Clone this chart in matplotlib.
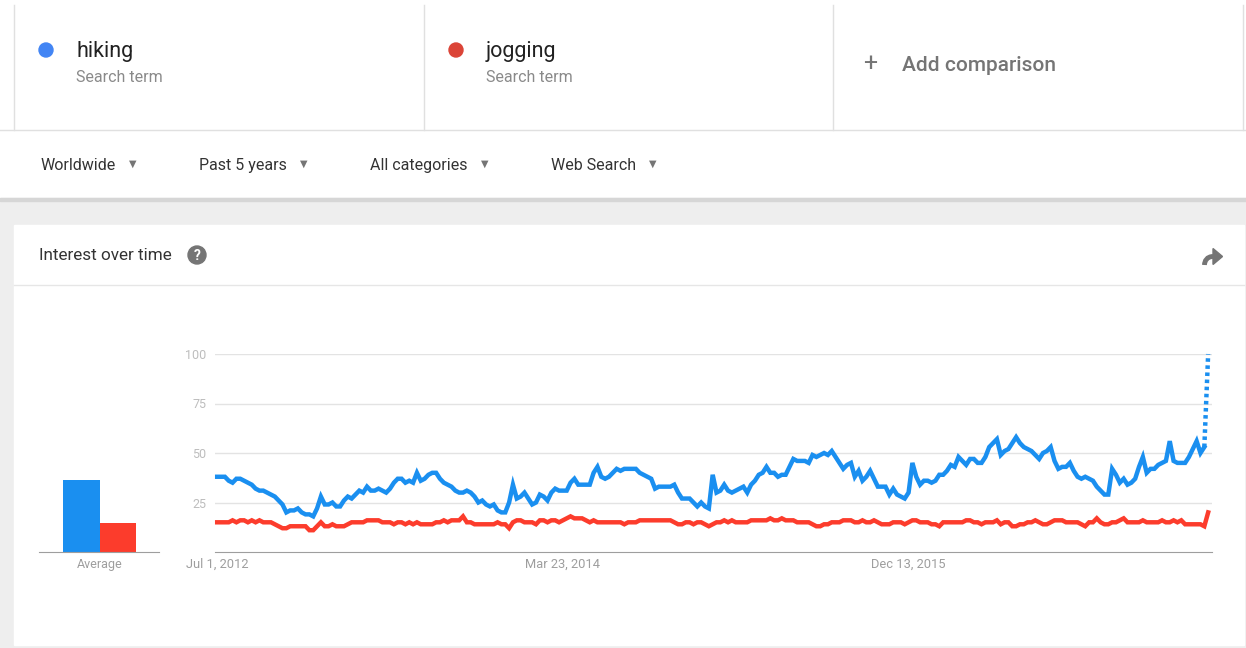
import matplotlib.pyplot as plt
import pandas as pd
from matplotlib.patches import Rectangle, Circle, Polygon, PathPatch
from matplotlib.path import Path

# ---------- DATA ----------
terms = ["hiking", "jogging"]
start_date = "2012-07-01"

hiking = [38, 38, 38, 36, 35, 37, 37, 36, 35, 34, 32, 31, 31, 30, 29, 28, 26, 24, 20, 21, 21, 22, 20, 19, 19, 18, 22, 28, 24, 24, 25, 23, 23, 26, 28, 27, 29, 31, 30, 33, 31, 31, 32,
          31, 30, 32, 35, 37, 37, 35, 36, 35, 40, 36, 37, 39, 40, 40, 37, 35, 34, 33, 31, 30, 30, 31, 30, 28, 25, 26, 24, 23, 24, 21, 20, 20, 25, 34, 27, 28, 30, 27, 24, 25, 29, 28,
          26, 30, 32, 31, 31, 31, 35, 37, 34, 34, 34, 34, 40, 43, 38, 37, 38, 40, 42, 41, 42, 42, 42, 42, 40, 39, 38, 37, 32, 33, 33, 33, 33, 34, 30, 27, 27, 27, 25, 23, 25, 23, 22,
          39, 30, 31, 34, 31, 30, 31, 32, 33, 30, 34, 36, 39, 40, 43, 40, 40, 38, 39, 39, 43, 47, 46, 46, 46, 45, 49, 48, 49, 50, 49, 51, 48, 45, 42, 44, 45, 38, 41, 36, 38, 41, 37,
          33, 33, 33, 29, 32, 29, 28, 27, 30, 45, 38, 34, 36, 36, 35, 36, 39, 39, 41, 44, 43, 48, 46, 44, 47, 47, 45, 45, 48, 53, 55, 57, 49, 51, 52, 55, 58, 55, 53, 52, 51, 49, 47,
          50, 51, 53, 46, 42, 43, 43, 45, 41, 38, 37, 38, 37, 36, 33, 31, 29, 29, 42, 39, 35, 37, 34, 35, 37, 43, 48, 40, 42, 42, 44, 45, 46, 56, 46, 45, 45, 45, 48, 52, 56, 50, 53, 100]

jogging = [15, 15, 15, 15, 16, 15, 16, 16, 15, 16, 15, 16, 15, 15, 15, 14, 13, 12, 12, 13, 13, 13, 13, 13, 11, 11, 13, 15, 13, 13, 14, 13, 13, 13, 14, 15, 15, 15, 15, 16, 16, 16, 16,
           15, 15, 15, 14, 15, 15, 14, 15, 14, 15, 14, 14, 14, 14, 15, 15, 16, 15, 16, 16, 16, 18, 15, 15, 14, 14, 14, 14, 14, 14, 15, 14, 14, 12, 15, 16, 16, 15, 15, 15, 14, 16, 16,
           15, 16, 16, 15, 16, 17, 18, 17, 17, 17, 16, 15, 16, 15, 15, 15, 15, 15, 15, 15, 14, 15, 15, 15, 16, 16, 16, 16, 16, 16, 16, 16, 16, 15, 14, 14, 15, 15, 14, 15, 15, 14, 13,
           14, 15, 15, 16, 15, 16, 15, 15, 15, 15, 16, 16, 16, 16, 16, 17, 16, 16, 17, 16, 16, 16, 15, 15, 15, 15, 14, 13, 13, 14, 14, 15, 15, 15, 16, 16, 16, 15, 15, 16, 15, 15, 16,
           15, 14, 14, 14, 15, 15, 15, 14, 15, 16, 16, 15, 15, 15, 14, 14, 13, 15, 15, 15, 15, 15, 15, 16, 16, 15, 15, 14, 15, 15, 15, 16, 14, 15, 15, 13, 13, 14, 14, 15, 15, 16, 15,
           14, 14, 15, 16, 16, 16, 15, 15, 15, 15, 14, 13, 15, 15, 17, 15, 14, 14, 15, 15, 16, 17, 15, 15, 15, 15, 16, 15, 15, 15, 15, 16, 15, 15, 16, 15, 16, 14, 14, 14, 14, 14, 13, 20]

averages = [36.5, 14.7]
y_ticks = [25, 50, 75, 100]
x_tick_dates = ["2012-07-01", "2014-03-23", "2015-12-13"]
x_tick_labels = ["Jul 1, 2012", "Mar 23, 2014", "Dec 13, 2015"]
filters = ["Worldwide", "Past 5 years", "All categories", "Web Search"]

dates = pd.date_range(start_date, periods=len(hiking), freq="7D")

BLUE = "#1a8ff0"
RED = "#fc3c2c"
W, H = 1246, 648

plt.rcParams["font.family"] = ["Roboto", "DejaVu Sans"]

fig = plt.figure(figsize=(W / 100, H / 100), dpi=100)
renderer = fig.canvas.get_renderer()


def px_axes(x0, y0, x1, y1):
    return fig.add_axes([x0 / W, 1 - y1 / H, (x1 - x0) / W, (y1 - y0) / H])


# ---------- PAGE BACKGROUND ----------
bg = fig.add_axes([0, 0, 1, 1])
bg.set_xlim(0, W)
bg.set_ylim(H, 0)
bg.axis("off")

bg.add_patch(Rectangle((0, 198), W, H - 198, color="#eeeeee", zorder=0))
bg.add_patch(Rectangle((0, 198), W, 3, color="#d6d6d6", zorder=1))
bg.add_patch(Rectangle((14, 225), 1230, 420, color="white", zorder=1))
bg.plot([14, 1244], [285, 285], color="#e6e6e6", lw=1, zorder=2)

# term boxes
for x in [14, 424, 833, 1243]:
    bg.plot([x, x], [5, 130], color="#e0e0e0", lw=1, zorder=2)
bg.plot([0, W], [130, 130], color="#e0e0e0", lw=1, zorder=2)

term_x = [76, 486]
for i, term in enumerate(terms):
    col = "#4285f4" if i == 0 else "#db4437"
    bg.add_patch(Circle((term_x[i] - 30, 50), 7, color=col, zorder=3))
    bg.text(term_x[i], 51.5, term, fontsize=15.5, color="#212121", va="center")
    bg.text(term_x[i], 77, "Search term", fontsize=11.5, color="#8a8a8a", va="center")

bg.text(863, 64, "+", fontsize=18, color="#757575", va="center")
bg.text(902, 65.5, "Add comparison", fontsize=15, color="#757575", va="center",
        fontweight="medium")

# filter row
filter_x = [41, 199, 370, 551]
for fx, label in zip(filter_x, filters):
    t = bg.text(fx, 165.5, label, fontsize=11.5, color="#333333", va="center")
    bb = t.get_window_extent(renderer=renderer)
    bg.text(bb.x1 + 13, 164, "\u25bc", fontsize=7, color="#757575", va="center")

# card header
bg.text(39, 256, "Interest over time", fontsize=12.3, color="#333333", va="center")
bg.add_patch(Circle((197, 255), 9, color="#757575", zorder=3))
bg.text(197, 255.5, "?", fontsize=10, color="white", ha="center", va="center",
        fontweight="bold", zorder=4)
# share icon
bg.add_patch(Polygon([(1213, 248.5), (1222.5, 256.5), (1213, 264.5)], closed=True,
                     color="#757575", zorder=3))
share_path = Path([(1213, 256.5), (1207, 256.5), (1204.5, 261), (1204.5, 265)],
                  [Path.MOVETO, Path.CURVE4, Path.CURVE4, Path.CURVE4])
bg.add_patch(PathPatch(share_path, fill=False, edgecolor="#757575", lw=3.5,
                       capstyle="butt", zorder=3))

# ---------- AVERAGE BARS ----------
bax = px_axes(39, 354, 159, 552)
bax.bar([0, 1], averages, width=1, align="edge", color=[BLUE, RED])
bax.set_xlim(-0.66, 2.63)
bax.set_ylim(0, 100)
for s in ["top", "right", "left"]:
    bax.spines[s].set_visible(False)
bax.spines["bottom"].set_color("#9e9e9e")
bax.set_yticks([])
bax.set_xticks([1])
bax.set_xticklabels(["Average"])
bax.tick_params(axis="x", length=0, pad=4, labelsize=9, labelcolor="#9e9e9e")
bax.patch.set_alpha(0)

# ---------- LINE CHART ----------
ax = px_axes(215, 354, 1212, 552)
ax.plot(dates[:-1], hiking[:-1], color=BLUE, lw=3.2, solid_joinstyle="miter", clip_on=False)
ax.plot(dates[-2:], hiking[-2:], color=BLUE, lw=3.2, linestyle=(0, (0.8, 0.8)), clip_on=False)
ax.plot(dates, jogging, color=RED, lw=3.2, solid_joinstyle="miter", clip_on=False)

ax.set_ylim(0, 100)
ax.set_xlim(dates[0] - pd.Timedelta(days=4), dates[-1] + pd.Timedelta(days=7))
ax.set_yticks(y_ticks)
ax.set_yticklabels([str(v) for v in y_ticks])
ax.grid(axis="y", color="#e3e3e3", lw=1)
ax.set_axisbelow(True)
ax.set_xticks(pd.to_datetime(x_tick_dates))
ax.set_xticklabels(x_tick_labels)
for s in ["top", "right", "left"]:
    ax.spines[s].set_visible(False)
ax.spines["bottom"].set_color("#9e9e9e")
ax.tick_params(axis="y", length=0, pad=6, labelsize=9, labelcolor="#bdbdbd")
ax.tick_params(axis="x", length=0, pad=4, labelsize=9.3, labelcolor="#9e9e9e")
ax.patch.set_alpha(0)

fig.savefig("out.png", dpi=100)
